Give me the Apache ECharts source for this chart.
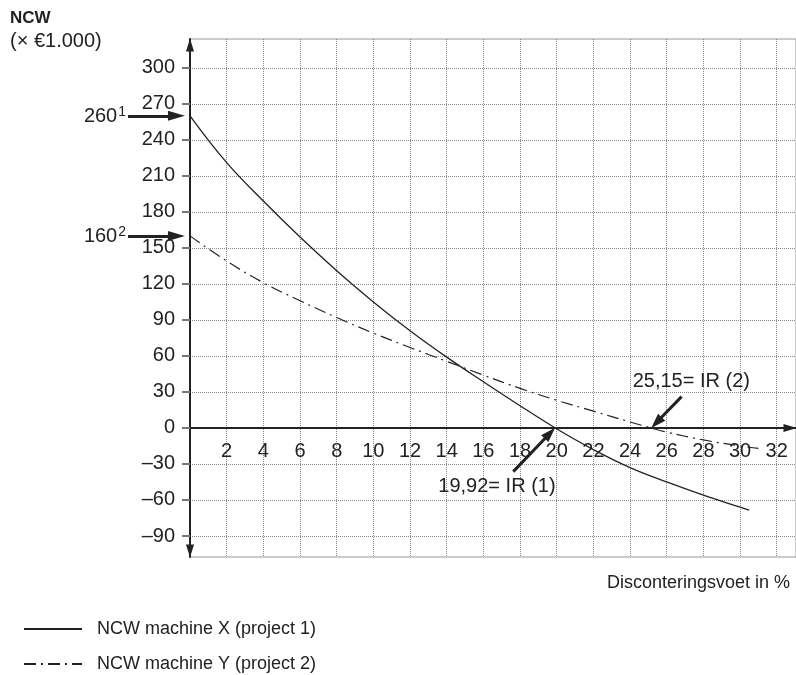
<!DOCTYPE html>
<html>
<head>
<meta charset="utf-8">
<script src="https://cdn.jsdelivr.net/npm/echarts@6/dist/echarts.min.js"></script>
<style>
  html, body { margin: 0; padding: 0; background: #fff; }
  #chart { width: 796px; height: 675px; }
</style>
</head>
<body>
<div id="chart"></div>
<script>
// ---- data ----
const ratesX = [0, 2, 4, 6, 8, 10, 12, 14, 16, 18, 19.92, 22, 24, 26, 28, 30, 30.5];
const ncwX   = [260, 221, 189, 159, 131, 105, 81, 59, 38.5, 18.5, 0, -18, -33, -45, -56, -66, -68.5];
const ratesY = [0, 2, 4, 6, 8, 10, 12, 14, 16, 18, 20, 22, 24, 25.15, 26, 28, 30, 31];
const ncwY   = [160, 139, 121, 106, 92, 79, 67, 55.5, 44, 33, 23, 14, 5, 0, -3.5, -10, -15, -17];
const yTicks = [-90, -60, -30, 0, 30, 60, 90, 120, 150, 180, 210, 240, 270, 300];
const xTicks = [2, 4, 6, 8, 10, 12, 14, 16, 18, 20, 22, 24, 26, 28, 30, 32];
const nameX = 'NCW machine X (project 1)';
const nameY = 'NCW machine Y (project 2)';
const startNCW = [260, 160];   // values at 0 %
const irr = [19.92, 25.15];

const FONT = "'Liberation Sans', Arial, sans-serif";
const INK = '#222';

const chart = echarts.init(document.getElementById('chart'), null, { renderer: 'canvas' });

const yMin = -107.5, yMax = 324;

const arrowStyle = { color: INK, width: 3, type: 'solid' };

const legendCommon = {
  orient: 'horizontal',
  left: 18,
  itemWidth: 58, itemHeight: 14,
  selectedMode: false,
  itemStyle: { color: 'rgba(0,0,0,0)', borderWidth: 0, opacity: 0 },
  textStyle: { fontFamily: FONT, fontSize: 18, color: INK, padding: [0, 0, 0, 10] }
};

chart.setOption({
  animation: false,
  backgroundColor: '#fff',
  textStyle: { fontFamily: FONT, color: INK },
  title: [
    {
      text: 'NCW',
      subtext: '(× €1.000)',
      left: 5, top: 5, itemGap: 4,
      textStyle: { fontFamily: FONT, fontSize: 17, fontWeight: 'bold', color: INK },
      subtextStyle: { fontFamily: FONT, fontSize: 20, color: INK }
    },
    {
      text: 'Disconteringsvoet in %',
      right: 1, top: 569,
      textStyle: { fontFamily: FONT, fontSize: 18, fontWeight: 'normal', color: INK }
    }
  ],
  legend: [
    Object.assign({}, legendCommon, { top: 615, data: [nameX] }),
    Object.assign({}, legendCommon, { top: 650, data: [nameY] })
  ],
  grid: [
    { left: 190, right: 0, top: 39, bottom: 118, show: true, borderColor: '#999', borderWidth: 1 },
    { left: 80, right: 606, top: 39, bottom: 118, show: false }
  ],
  xAxis: [
    {
      type: 'value', gridIndex: 0, min: 0, max: 33.05, interval: 2,
      position: 'bottom', offset: -129,
      axisLine: { onZero: false, lineStyle: { color: INK, width: 2 }, symbol: ['none', 'triangle'], symbolSize: [8, 13], symbolOffset: [0, -6] },
      axisTick: { show: false, customValues: xTicks },
      axisLabel: { customValues: xTicks, margin: 13, fontFamily: FONT, fontSize: 20, color: INK },
      splitLine: { show: true, lineStyle: { color: '#888', type: 'dotted', width: 1 } }
    },
    { type: 'value', gridIndex: 1, min: -6, max: 0, show: false }
  ],
  yAxis: [
    {
      type: 'value', gridIndex: 0, min: yMin, max: yMax,
      axisLine: { onZero: false, lineStyle: { color: INK, width: 2 }, symbol: ['triangle', 'triangle'], symbolSize: [8, 13], symbolOffset: [6, -6] },
      axisTick: { show: true, customValues: yTicks, length: 8, lineStyle: { color: '#777', width: 2 } },
      axisLabel: {
        customValues: yTicks, margin: 15, fontFamily: FONT, fontSize: 20, color: INK,
        formatter: v => (v < 0 ? '\u2013' + Math.abs(v) : String(v))
      },
      splitLine: { show: true, lineStyle: { color: '#888', type: 'dotted', width: 1 } }
    },
    { type: 'value', gridIndex: 1, min: yMin, max: yMax, show: false }
  ],
  series: [
    {
      name: nameX, type: 'line', xAxisIndex: 0, yAxisIndex: 0,
      data: ratesX.map((r, i) => [r, ncwX[i]]),
      showSymbol: false, symbol: 'none', smooth: 0.4,
      lineStyle: { color: INK, width: 1.3, type: 'solid' },
      itemStyle: { color: INK },
      z: 3,
      markLine: {
        silent: true, symbol: ['none', 'triangle'], symbolSize: [10, 15],
        lineStyle: arrowStyle, label: { show: false },
        data: [
          [ { coord: [17.63, -36.4] }, { coord: [19.63, -4.4] } ]
        ]
      },
      markPoint: {
        silent: true, symbol: 'circle', symbolSize: 1,
        itemStyle: { color: 'rgba(0,0,0,0)' },
        label: { show: true, position: 'inside', fontFamily: FONT, fontSize: 20, color: INK },
        data: [
          { coord: [16.74, -48.9], label: { formatter: irr[0].toFixed(2).replace('.', ',') + '= IR (1)' } }
        ]
      }
    },
    {
      name: nameY, type: 'line', xAxisIndex: 0, yAxisIndex: 0,
      data: ratesY.map((r, i) => [r, ncwY[i]]),
      showSymbol: false, symbol: 'none', smooth: 0.4,
      lineStyle: { color: INK, width: 1.2, type: [12, 5, 2, 5] },
      itemStyle: { color: INK },
      z: 3,
      markLine: {
        silent: true, symbol: ['none', 'triangle'], symbolSize: [10, 15],
        lineStyle: arrowStyle, label: { show: false },
        data: [
          [ { coord: [26.81, 26.1] }, { coord: [25.44, 4.5] } ]
        ]
      },
      markPoint: {
        silent: true, symbol: 'circle', symbolSize: 1,
        itemStyle: { color: 'rgba(0,0,0,0)' },
        label: { show: true, position: 'inside', fontFamily: FONT, fontSize: 20, color: INK },
        data: [
          { coord: [27.34, 38.6], label: { formatter: irr[1].toFixed(2).replace('.', ',') + '= IR (2)' } }
        ]
      }
    },
    {
      name: 'start-arrows', type: 'line', xAxisIndex: 1, yAxisIndex: 1,
      data: [], showSymbol: false,
      markLine: {
        silent: true, symbol: ['none', 'triangle'], symbolSize: [10, 17],
        lineStyle: arrowStyle,
        label: {
          show: true, position: 'start', distance: 2,
          rich: {
            n: { fontFamily: FONT, fontSize: 20, color: INK, lineHeight: 22, verticalAlign: 'bottom' },
            s: { fontFamily: FONT, fontSize: 14, color: INK, lineHeight: 22, verticalAlign: 'top', padding: [0, 0, 10, 1] }
          }
        },
        data: [
          [ { coord: [-3.38, startNCW[0]], label: { formatter: '{n|' + startNCW[0] + '}{s|1}' } }, { coord: [-0.74, startNCW[0]] } ],
          [ { coord: [-3.38, startNCW[1]], label: { formatter: '{n|' + startNCW[1] + '}{s|2}' } }, { coord: [-0.74, startNCW[1]] } ]
        ]
      }
    }
  ]
});
</script>
</body>
</html>
